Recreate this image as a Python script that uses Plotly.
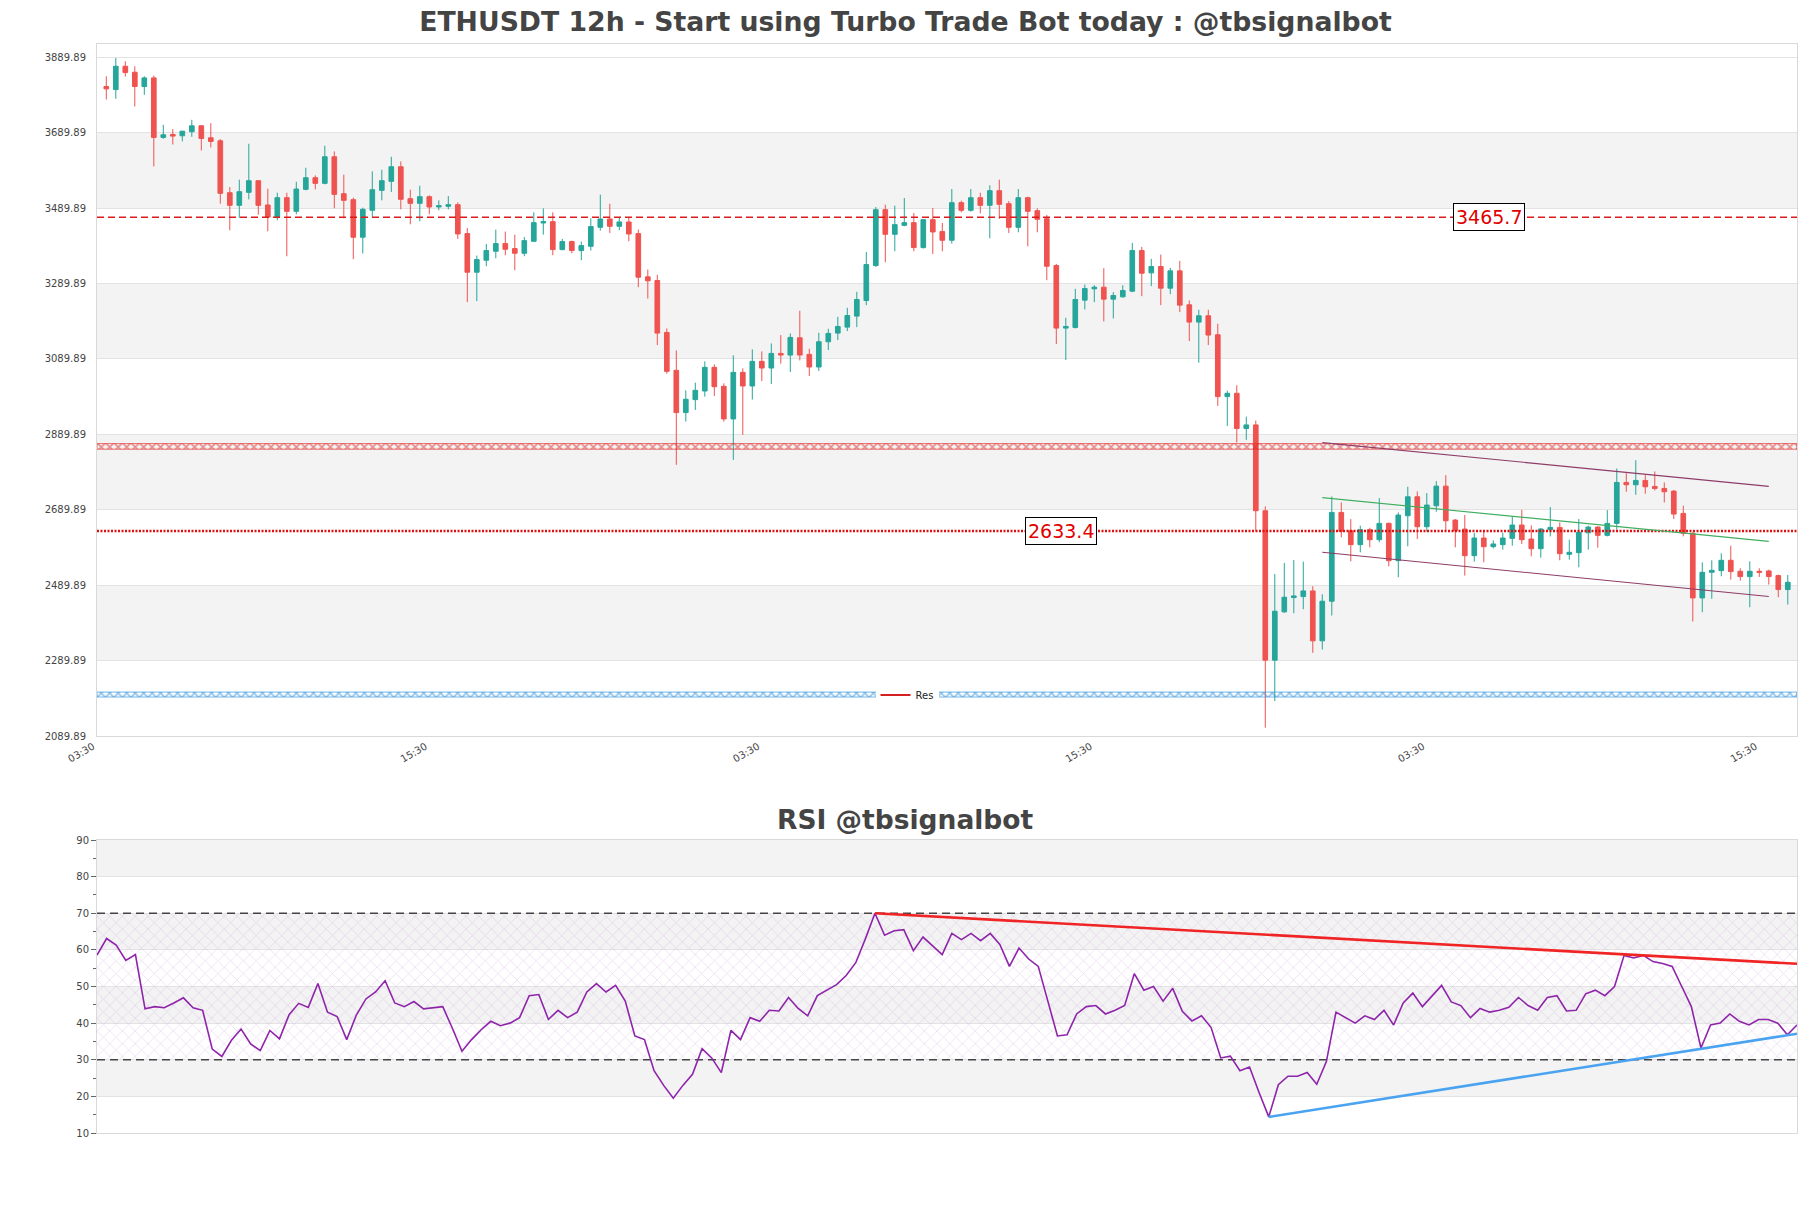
import plotly.graph_objects as go

# ---------------- DATA ----------------
open_ = [3812.2,3804.2,3866.0,3850.1,3812.2,3835.1,3677.2,3685.1,3681.6,3692.2,3708.1,3676.3,3668.3,3530.7,3497.2,3531.6,3562.5,3498.1,3466.3,3517.5,
         3481.3,3539.5,3570.4,3555.4,3626.0,3528.1,3512.2,3412.5,3483.9,3536.9,3560.7,3599.5,3514.8,3502.5,3520.1,3492.8,3494.5,3498.9,3422.2,3319.8,
         3351.6,3375.4,3395.7,3382.5,3370.1,3401.9,3450.4,3453.9,3379.8,3401.0,3377.2,3388.6,3438.9,3461.0,3441.6,3453.1,3422.2,3307.5,3297.8,3160.1,
         3059.5,2947.5,2981.9,3004.8,3067.5,3017.2,2930.7,3054.2,3018.1,3083.4,3065.7,3104.5,3100.1,3146.0,3101.9,3068.4,3135.4,3158.3,3174.2,3203.4,
         3244.8,3337.5,3485.7,3420.4,3444.2,3451.3,3385.1,3459.2,3427.5,3404.5,3504.2,3483.9,3517.4,3497.2,3536.0,3501.6,3438.9,3517.4,3483.1,3461.9,
         3337.5,3171.6,3173.3,3245.7,3275.7,3280.1,3248.4,3254.5,3269.5,3377.2,3318.1,3334.9,3277.5,3323.4,3233.4,3187.5,3204.3,3154.0,2989.9,2998.7,
         2905.2,2914.9,2687.2,2291.1,2419.1,2457.0,2459.6,2474.6,2342.3,2447.3,2682.8,2634.3,2597.3,2637.0,2610.5,2653.7,2554.9,2674.0,2724.3,2644.9,
         2700.5,2752.5,2662.5,2638.7,2568.2,2614.9,2592.0,2597.3,2614.0,2649.3,2612.3,2586.7,2637.0,2643.1,2571.7,2576.1,2629.0,2644.0,2622.0,2653.7,
         2762.3,2756.1,2767.6,2751.7,2746.4,2739.3,2680.2,2627.3,2456.1,2524.0,2528.4,2555.8,2526.7,2512.6,2526.7,2527.6,2515.2,2478.2]
high = [3839.5,3888.0,3879.2,3866.0,3839.5,3841.3,3710.7,3699.2,3694.0,3723.9,3709.0,3715.1,3672.8,3545.7,3565.1,3660.4,3563.0,3541.3,3530.7,3530.7,
        3559.8,3596.9,3576.6,3655.1,3640.1,3578.4,3517.5,3491.0,3587.2,3591.6,3626.0,3613.6,3538.6,3549.2,3523.7,3510.4,3521.9,3505.1,3437.2,3363.9,
        3394.8,3432.8,3427.5,3419.5,3413.3,3478.6,3489.2,3478.6,3408.1,3403.6,3401.0,3462.8,3525.4,3501.6,3463.6,3463.6,3432.8,3326.9,3312.8,3170.7,
        3112.5,3006.6,3026.9,3083.4,3075.4,3025.1,3099.2,3064.8,3115.1,3109.8,3131.0,3153.0,3157.5,3217.5,3116.9,3159.2,3169.8,3201.6,3225.4,3267.8,
        3373.6,3492.7,3498.9,3496.3,3516.6,3476.9,3461.0,3490.1,3450.4,3540.4,3509.5,3540.4,3530.7,3550.1,3565.1,3508.6,3540.4,3520.1,3489.2,3471.6,
        3341.9,3198.9,3275.7,3287.2,3285.4,3330.4,3266.9,3285.4,3397.5,3386.9,3355.2,3366.6,3331.3,3349.9,3244.9,3220.2,3220.2,3183.1,3005.8,3019.9,
        2936.9,2926.4,2698.7,2519.6,2548.7,2556.7,2552.3,2487.0,2465.8,2725.2,2709.3,2665.2,2647.6,2642.3,2720.8,2656.4,2682.8,2750.8,2738.4,2734.0,
        2765.8,2781.7,2665.2,2675.8,2628.2,2631.7,2608.7,2629.0,2672.3,2690.0,2648.4,2641.4,2697.0,2656.4,2610.5,2665.2,2647.6,2645.8,2689.0,2799.3,
        2787.0,2821.4,2781.7,2791.4,2762.3,2742.0,2700.5,2631.7,2550.5,2555.8,2574.3,2594.6,2534.6,2553.2,2534.6,2531.1,2517.9,2517.0]
low = [3777.8,3779.5,3838.6,3759.2,3790.1,3600.4,3673.6,3658.6,3666.6,3678.9,3642.8,3650.7,3501.6,3431.0,3463.6,3513.1,3472.5,3428.4,3457.5,3362.2,
       3473.4,3536.9,3539.5,3552.8,3489.2,3462.8,3354.3,3369.3,3466.3,3510.4,3532.5,3486.6,3446.9,3454.8,3473.4,3483.9,3486.6,3408.1,3240.4,3243.1,
       3335.7,3356.9,3364.8,3325.1,3362.2,3401.0,3419.5,3364.8,3378.0,3370.1,3351.6,3377.2,3430.1,3423.9,3431.0,3401.9,3280.1,3250.1,3126.6,3050.7,
       2809.0,2923.7,2954.5,2989.8,2991.6,2923.7,2822.2,2888.4,2982.2,3031.3,3023.4,3077.2,3055.1,3086.0,3044.5,3057.8,3113.4,3139.8,3163.6,3174.2,
       3232.5,3333.9,3346.3,3375.4,3441.6,3375.4,3382.5,3368.3,3375.4,3395.7,3478.6,3480.4,3476.0,3409.8,3461.0,3423.9,3425.7,3388.6,3425.7,3298.6,
       3129.2,3086.9,3170.7,3221.0,3240.4,3189.2,3197.2,3251.9,3266.9,3256.3,3282.8,3232.5,3261.6,3214.0,3137.2,3079.9,3126.6,2965.2,2912.2,2868.1,
       2875.2,2634.3,2112.0,2182.6,2416.4,2415.5,2426.1,2310.5,2319.3,2409.4,2616.7,2553.1,2577.0,2590.2,2603.5,2539.9,2510.8,2592.9,2612.3,2631.7,
       2684.6,2634.3,2590.2,2515.2,2552.3,2550.5,2587.6,2584.1,2594.6,2599.1,2566.4,2562.9,2619.3,2555.8,2557.6,2537.3,2584.1,2589.3,2619.3,2637.0,
       2737.6,2729.6,2732.3,2741.1,2709.3,2665.2,2619.3,2393.5,2418.2,2453.5,2513.5,2504.6,2502.0,2431.4,2511.7,2491.4,2457.9,2438.5]
close = [3806.0,3866.0,3849.2,3812.2,3835.1,3677.2,3684.2,3680.7,3693.9,3708.1,3674.5,3666.6,3529.0,3497.2,3533.4,3562.5,3497.2,3466.3,3517.5,3481.3,
         3540.4,3570.4,3555.4,3626.0,3526.3,3510.4,3412.5,3486.6,3538.6,3562.5,3599.5,3513.1,3502.5,3520.1,3492.8,3496.3,3499.0,3421.3,3319.8,3353.3,
         3377.2,3395.7,3380.7,3370.1,3403.6,3451.3,3453.9,3379.8,3401.0,3377.2,3390.4,3440.7,3461.0,3441.6,3453.1,3421.3,3306.6,3296.9,3158.4,3056.9,
         2947.5,2982.8,3006.6,3067.5,3016.3,2930.7,3054.2,3018.1,3083.4,3065.7,3104.5,3100.1,3146.9,3100.1,3068.4,3135.4,3157.5,3176.0,3205.1,3247.5,
         3340.1,3485.7,3420.4,3446.0,3451.3,3385.1,3459.2,3426.6,3404.5,3504.2,3483.9,3517.4,3497.2,3536.0,3499.8,3438.9,3517.4,3481.3,3460.1,3335.7,
         3171.6,3176.0,3247.5,3276.6,3280.1,3248.4,3258.1,3271.3,3377.2,3317.2,3334.9,3277.5,3323.4,3232.5,3187.5,3204.3,3153.1,2989.9,2998.7,2905.2,
         2914.9,2687.2,2291.1,2420.8,2457.9,2461.4,2474.6,2342.3,2447.3,2682.8,2632.6,2597.3,2637.0,2610.5,2653.7,2554.9,2675.8,2724.3,2644.9,2702.3,
         2752.5,2660.8,2634.3,2568.1,2614.9,2592.0,2599.1,2614.9,2649.3,2610.5,2586.7,2638.8,2643.1,2573.4,2577.0,2629.9,2644.0,2622.0,2653.7,2762.3,
         2756.1,2767.6,2750.8,2746.4,2737.6,2678.4,2627.3,2456.1,2524.0,2529.3,2555.8,2525.8,2512.6,2526.7,2524.0,2512.6,2478.2,2497.6]

rsi = [58.6,63.1,61.3,57.1,58.7,43.9,44.5,44.2,45.5,46.9,44.2,43.5,32.9,30.9,35.3,38.4,34.3,32.5,38.0,35.7,
       42.3,45.4,44.3,50.8,43.0,41.8,35.5,42.2,46.6,48.5,51.6,45.5,44.5,45.9,43.9,44.3,44.5,38.6,32.3,35.5,
       38.2,40.5,39.3,40.0,41.5,47.5,47.8,41.0,43.5,41.5,43.0,48.5,50.8,48.5,50.3,46.0,36.5,35.5,27.0,23.0,
       19.5,23.0,26.0,33.0,30.5,26.5,38.0,35.5,41.5,40.5,43.5,43.3,47.0,44.0,42.0,47.5,49.0,50.5,53.0,56.5,
       63.0,70.0,64.0,65.2,65.5,59.8,63.5,61.0,58.7,64.5,62.8,64.5,62.5,64.5,61.5,55.5,60.5,57.5,55.5,46.0,
       36.5,36.8,42.5,44.5,44.8,42.5,43.5,44.8,53.5,49.0,50.0,46.0,49.5,43.2,40.6,42.0,38.8,30.5,31.0,27.0,
       28.0,21.0,14.4,23.2,25.5,25.5,26.5,23.3,29.5,43.0,41.5,40.0,42.0,41.0,43.5,39.5,45.5,48.2,44.5,47.5,
       50.3,45.8,44.8,41.5,44.0,43.0,43.5,44.3,47.0,44.8,43.5,47.0,47.5,43.3,43.5,48.0,49.0,47.5,50.0,58.5,
       57.8,58.5,56.8,56.3,55.5,50.0,44.5,33.2,39.5,40.0,42.5,40.5,39.5,41.0,41.0,40.0,36.8,39.5]

x_tick_labels = ["03:30", "15:30", "03:30", "15:30", "03:30", "15:30"]
price_ticks = [2089.89, 2289.89, 2489.89, 2689.89, 2889.89, 3089.89, 3289.89, 3489.89, 3689.89, 3889.89]
res_dashed = 3465.7
res_dotted = 2633.4
zone_red = [2850.4, 2865.4]
zone_blue = [2193.2, 2206.4]
channel_x = [128, 175]
channel_upper = [2868.0, 2752.0]
channel_mid = [2722.0, 2606.0]
channel_lower = [2577.0, 2460.0]
rsi_levels = [30, 70]
rsi_ticks = [10, 20, 30, 40, 50, 60, 70, 80, 90]
rsi_res_x = [81, 177]
rsi_res_y = [70.0, 56.2]
rsi_sup_x = [122, 177]
rsi_sup_y = [14.4, 37.1]

# ---------------- FIGURE ----------------
n = len(close)
idx = list(range(n))
XMIN, XMAX = -0.98, n - 0.03
W, H = 1811, 1208
ML, MR, MT, MB = 97, 14, 44, 75
PH = H - MT - MB
main_dom = [(H - MB - 736) / PH, 1.0]
rsi_dom = [0.0, (H - MB - 840) / PH]

RED = "#ef5350"
GREEN = "#26a69a"
BAND = "#f3f3f3"
GRID = "#e3e3e3"
FRAME = "#d9d9d9"

fig = go.Figure()

# zones (hatched bands)
for zone, col in [(zone_red, "#e02020"), (zone_blue, "#1f88d8")]:
    fig.add_trace(go.Scatter(
        x=[XMIN, XMAX, XMAX, XMIN, XMIN], y=[zone[0], zone[0], zone[1], zone[1], zone[0]],
        mode="lines", fill="toself", line=dict(width=0.6, color=col), fillcolor="rgba(0,0,0,0)",
        fillpattern=dict(shape="x", fgcolor=col, bgcolor="rgba(255,255,255,0)", size=6, solidity=0.5),
        showlegend=False, hoverinfo="skip", xaxis="x", yaxis="y"))

fig.add_trace(go.Candlestick(
    x=idx, open=open_, high=high, low=low, close=close,
    increasing=dict(line=dict(color=GREEN, width=1), fillcolor=GREEN),
    decreasing=dict(line=dict(color=RED, width=1), fillcolor=RED),
    showlegend=False, xaxis="x", yaxis="y"))

# resistance lines
fig.add_trace(go.Scatter(x=[XMIN, XMAX], y=[res_dashed, res_dashed], mode="lines",
                         line=dict(color="#dc1c1c", width=1.5, dash="7px,4px"),
                         showlegend=False, hoverinfo="skip", xaxis="x", yaxis="y"))
fig.add_trace(go.Scatter(x=[XMIN, XMAX], y=[res_dotted, res_dotted], mode="lines",
                         line=dict(color="#e01010", width=2.4, dash="2px,1.5px"),
                         showlegend=False, hoverinfo="skip", xaxis="x", yaxis="y"))

# channel
for yy, col in [(channel_upper, "#8e3c68"), (channel_mid, "#3fae5f"), (channel_lower, "#8e3c68")]:
    fig.add_trace(go.Scatter(x=channel_x, y=yy, mode="lines", line=dict(color=col, width=1.1),
                             showlegend=False, hoverinfo="skip", xaxis="x", yaxis="y"))

# legend entry
fig.add_trace(go.Scatter(x=[None], y=[None], mode="lines", name="Res",
                         line=dict(color="#d62020", width=2), xaxis="x", yaxis="y"))

# RSI hatch zone
fig.add_trace(go.Scatter(
    x=[0, n - 1, n - 1, 0, 0], y=[rsi_levels[0], rsi_levels[0], rsi_levels[1], rsi_levels[1], rsi_levels[0]],
    mode="lines", fill="toself", line=dict(width=0), fillcolor="rgba(0,0,0,0)",
    fillpattern=dict(shape="x", fgcolor="rgba(195,150,215,0.6)", bgcolor="rgba(255,255,255,0)", size=9, solidity=0.18),
    showlegend=False, hoverinfo="skip", xaxis="x2", yaxis="y2"))
for lv in rsi_levels:
    fig.add_trace(go.Scatter(x=[0, n - 1], y=[lv, lv], mode="lines",
                             line=dict(color="#444444", width=1.3, dash="8px,5px"),
                             showlegend=False, hoverinfo="skip", xaxis="x2", yaxis="y2"))
fig.add_trace(go.Scatter(x=idx, y=rsi, mode="lines", line=dict(color="#8e24aa", width=1.6),
                         showlegend=False, xaxis="x2", yaxis="y2"))
fig.add_trace(go.Scatter(x=rsi_res_x, y=rsi_res_y, mode="lines", line=dict(color="#f02424", width=2.6),
                         showlegend=False, hoverinfo="skip", xaxis="x2", yaxis="y2"))
fig.add_trace(go.Scatter(x=rsi_sup_x, y=rsi_sup_y, mode="lines", line=dict(color="#4aa3f0", width=2.6),
                         showlegend=False, hoverinfo="skip", xaxis="x2", yaxis="y2"))

# background bands
shapes = []
for k in range(len(price_ticks) - 1):
    if k % 2 == 1:
        shapes.append(dict(type="rect", xref="x domain", yref="y", x0=0, x1=1,
                           y0=price_ticks[k], y1=price_ticks[k + 1], fillcolor=BAND,
                           line=dict(width=0), layer="below"))
for k in range(len(rsi_ticks) - 1):
    if k % 2 == 1:
        shapes.append(dict(type="rect", xref="x2 domain", yref="y2", x0=0, x1=1,
                           y0=rsi_ticks[k], y1=rsi_ticks[k + 1], fillcolor=BAND,
                           line=dict(width=0), layer="below"))

tick_pos = [XMIN + 0.01 + 35 * k for k in range(len(x_tick_labels))]

annotations = [
    dict(x=145.5, y=res_dashed, xref="x", yref="y", text=f"{res_dashed}", showarrow=False,
         font=dict(family="DejaVu Sans", size=19, color="#e00000"), bgcolor="white",
         bordercolor="black", borderwidth=1, borderpad=2, yanchor="middle"),
    dict(x=100.5, y=res_dotted, xref="x", yref="y", text=f"{res_dotted}", showarrow=False,
         font=dict(family="DejaVu Sans", size=19, color="#e00000"), bgcolor="white",
         bordercolor="black", borderwidth=1, borderpad=2, yanchor="middle"),
    dict(x=(905.5 - ML) / (W - ML - MR), y=(H - MB - 819) / PH, xref="paper", yref="paper",
         text="<b>RSI @tbsignalbot</b>", showarrow=False, xanchor="center", yanchor="middle",
         font=dict(family="DejaVu Sans", size=26.5, color="#444444")),
]

fig.update_layout(
    width=W, height=H,
    margin=dict(l=ML, r=MR, t=MT, b=MB),
    paper_bgcolor="white", plot_bgcolor="white",
    font=dict(family="DejaVu Sans", color="#333333"),
    title=dict(text="<b>ETHUSDT 12h - Start using Turbo Trade Bot today : @tbsignalbot</b>",
               x=0.5, xref="container", xanchor="center",
               y=1 - 22 / H, yref="container", yanchor="middle",
               font=dict(family="DejaVu Sans", size=26.7, color="#444444")),
    showlegend=True,
    legend=dict(x=(907 - ML) / (W - ML - MR), y=(H - MB - 695) / PH, xanchor="center", yanchor="middle",
                bgcolor="white", borderwidth=0, font=dict(size=10, color="#222"),
                itemwidth=30, tracegroupgap=0),
    xaxis=dict(domain=[0, 1], anchor="y", range=[XMIN, XMAX], tickmode="array",
               tickvals=tick_pos, ticktext=x_tick_labels, tickangle=-30, ticklabelshift=-4,
               tickfont=dict(size=10, color="#444"), showgrid=False, zeroline=False,
               showline=True, mirror=True, linecolor=FRAME, linewidth=1,
               rangeslider=dict(visible=False)),
    yaxis=dict(domain=main_dom, anchor="x", range=[price_ticks[0], 3925], tickmode="array",
               tickvals=price_ticks, ticktext=[f"{v:.2f}" for v in price_ticks],
               tickfont=dict(size=10, color="#444"), showgrid=True, gridcolor=GRID,
               zeroline=False, showline=True, mirror=True, linecolor=FRAME, linewidth=1,
               ticklabelstandoff=8),
    xaxis2=dict(domain=[0, 1], anchor="y2", range=[0, n - 1], showticklabels=False,
                showgrid=False, zeroline=False, showline=True, mirror=True, linecolor=FRAME),
    yaxis2=dict(domain=rsi_dom, anchor="x2", range=[10, 90], tickmode="array", tickvals=rsi_ticks,
                tickfont=dict(size=10, color="#444"), showgrid=True, gridcolor=GRID,
                zeroline=False, showline=True, mirror=True, linecolor=FRAME,
                ticks="outside", ticklen=5, tickcolor="#666",
                minor=dict(dtick=5, ticks="outside", ticklen=3, tickcolor="#666", showgrid=False)),
    shapes=shapes,
    annotations=annotations,
)

fig.write_html("out.html")
